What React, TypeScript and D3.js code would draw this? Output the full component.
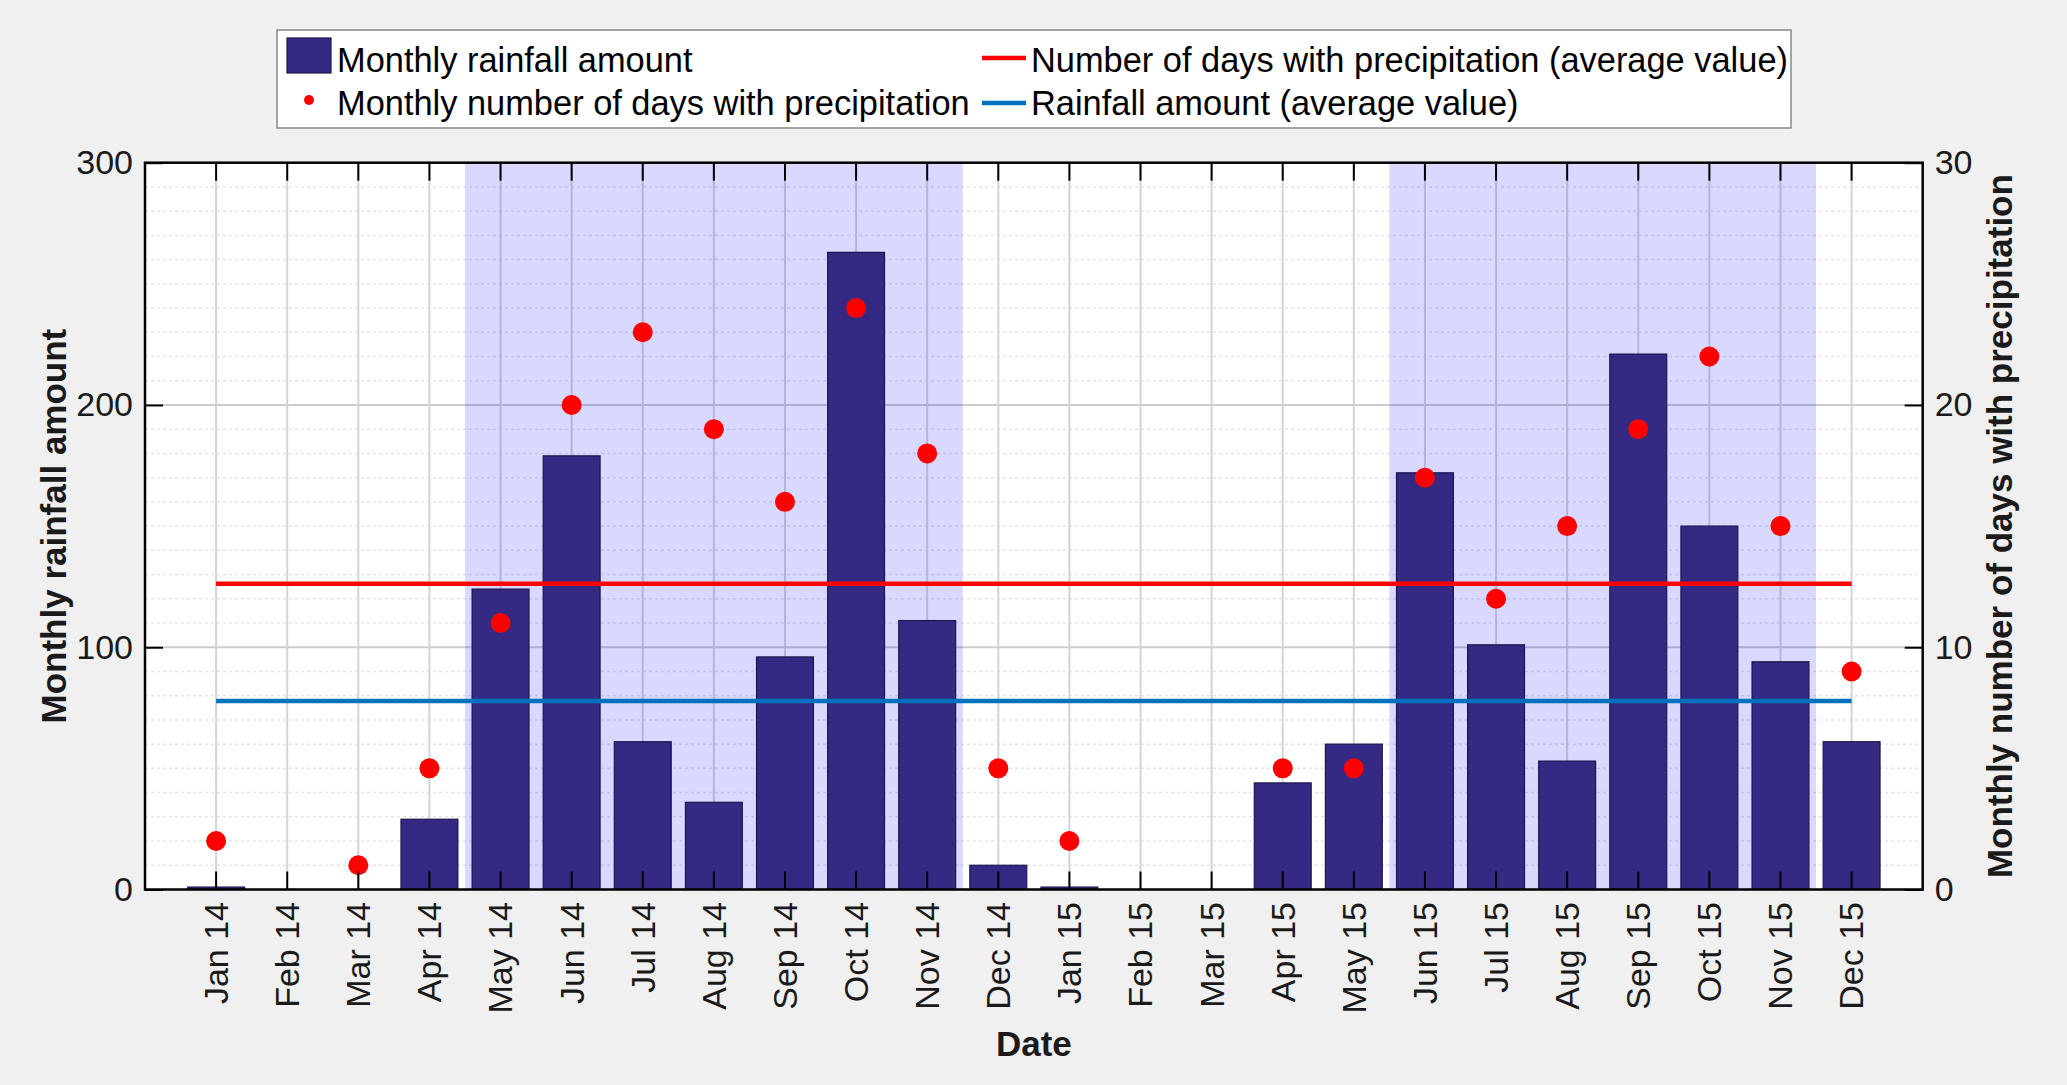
import { useEffect, useRef } from 'react';
import * as d3 from 'd3';

const months = [
  'Jan 14', 'Feb 14', 'Mar 14', 'Apr 14', 'May 14', 'Jun 14', 'Jul 14', 'Aug 14', 'Sep 14', 'Oct 14', 'Nov 14', 'Dec 14',
  'Jan 15', 'Feb 15', 'Mar 15', 'Apr 15', 'May 15', 'Jun 15', 'Jul 15', 'Aug 15', 'Sep 15', 'Oct 15', 'Nov 15', 'Dec 15',
];
const rainfall = [1, 0, 0, 29, 124, 179, 61, 36, 96, 263, 111, 10, 1, 0, 0, 44, 60, 172, 101, 53, 221, 150, 94, 61];
const rainyDays: (number | null)[] = [2, null, 1, 5, 11, 20, 23, 19, 16, 24, 18, 5, 2, null, null, 5, 5, 17, 12, 15, 19, 22, 15, 9];
const wetSeasons: [string, string][] = [['May 14', 'Nov 14'], ['Jun 15', 'Nov 15']];
const leftTicks = [0, 100, 200, 300];
const rightTicks = [0, 10, 20, 30];

const FONT = '"Liberation Sans", Arial, Helvetica, sans-serif';
const BAR = '#342983';

export default function App() {
  const svgRef = useRef<SVGSVGElement>(null);

  useEffect(() => {
    if (!svgRef.current) return;
    const width = 2067, height = 1085;
    const L = 145, R = 1922.7, T = 162.7, B = 889.5;

    const svg = d3.select(svgRef.current);
    svg.selectAll('*').remove();
    svg.attr('width', width).attr('height', height).style('font-family', FONT);

    svg.append('rect').attr('width', width).attr('height', height).attr('fill', '#f0f0f0');
    svg.append('rect').attr('x', L).attr('y', T).attr('width', R - L).attr('height', B - T).attr('fill', '#fff');

    const x = d3.scaleBand<string>().domain(months).range([L, R]).paddingInner(0.2).paddingOuter(0.6);
    const step = x.step();
    const cx = (m: string) => (x(m) ?? 0) + x.bandwidth() / 2;
    const yL = d3.scaleLinear().domain([0, 300]).range([B, T]);
    const yR = d3.scaleLinear().domain([0, 30]).range([B, T]);

    // grid
    const g = svg.append('g');
    g.selectAll('line.minor').data(d3.range(10, 300, 10).filter(v => v % 100 !== 0)).join('line')
      .attr('x1', L).attr('x2', R).attr('y1', d => yL(d)).attr('y2', d => yL(d))
      .attr('stroke', '#e4e4e4').attr('stroke-width', 1.5).attr('stroke-dasharray', '3,3');
    g.selectAll('line.hmaj').data([100, 200]).join('line')
      .attr('x1', L).attr('x2', R).attr('y1', d => yL(d)).attr('y2', d => yL(d))
      .attr('stroke', '#cccccc').attr('stroke-width', 2);
    g.selectAll('line.vmaj').data(months).join('line')
      .attr('x1', d => cx(d)).attr('x2', d => cx(d)).attr('y1', T).attr('y2', B)
      .attr('stroke', '#d4d4d4').attr('stroke-width', 2);

    // wet season shading
    svg.append('g').selectAll('rect').data(wetSeasons).join('rect')
      .attr('x', d => cx(d[0]) - step / 2).attr('y', T)
      .attr('width', d => cx(d[1]) - cx(d[0]) + step).attr('height', B - T)
      .attr('fill', '#0000ff').attr('fill-opacity', 0.15);

    // bars
    svg.append('g').selectAll('rect').data(rainfall).join('rect')
      .attr('x', (_, i) => x(months[i]) ?? 0).attr('width', x.bandwidth())
      .attr('y', d => yL(d)).attr('height', d => B - yL(d))
      .attr('fill', BAR).attr('stroke', '#1b1650').attr('stroke-width', 1.2);

    // average lines
    const avgRain = d3.mean(rainfall) ?? 0;
    const avgDays = d3.mean(rainyDays.filter((d): d is number => d != null)) ?? 0;
    const x0 = cx(months[0]), x1 = cx(months[months.length - 1]);
    svg.append('line').attr('x1', x0).attr('x2', x1).attr('y1', yR(avgDays)).attr('y2', yR(avgDays))
      .attr('stroke', '#ff0000').attr('stroke-width', 4.5);
    svg.append('line').attr('x1', x0).attr('x2', x1).attr('y1', yL(avgRain)).attr('y2', yL(avgRain))
      .attr('stroke', '#0072bd').attr('stroke-width', 4.5);

    // dots
    svg.append('g').selectAll('circle')
      .data(rainyDays.map((d, i) => ({ m: months[i], d })).filter(p => p.d != null))
      .join('circle')
      .attr('cx', p => cx(p.m)).attr('cy', p => yR(p.d as number)).attr('r', 10).attr('fill', '#ff0000');

    // axes
    const styleAxis = (s: d3.Selection<SVGGElement, unknown, null, undefined>) => {
      s.select('.domain').remove();
      s.selectAll('.tick line').attr('stroke', '#000').attr('stroke-width', 2);
      s.selectAll('text').attr('fill', '#1a1a1a').attr('font-size', 34).style('font-family', FONT);
    };
    svg.append('g').attr('transform', `translate(0,${B})`)
      .call(d3.axisBottom(x).tickSizeInner(-18).tickSizeOuter(0))
      .call(styleAxis)
      .call(s => s.selectAll('text').attr('transform', 'rotate(-90)').attr('x', -12.5).attr('y', 0)
        .attr('dy', '0.35em').attr('text-anchor', 'end'));
    svg.append('g').attr('transform', `translate(0,${T})`)
      .call(d3.axisTop(x).tickSizeInner(-18).tickSizeOuter(0).tickFormat(() => ''))
      .call(styleAxis);
    svg.append('g').attr('transform', `translate(${L},0)`)
      .call(d3.axisLeft(yL).tickValues(leftTicks).tickSizeInner(-18).tickSizeOuter(0).tickPadding(12))
      .call(styleAxis);
    svg.append('g').attr('transform', `translate(${R},0)`)
      .call(d3.axisRight(yR).tickValues(rightTicks).tickSizeInner(-18).tickSizeOuter(0).tickPadding(12))
      .call(styleAxis);

    svg.append('rect').attr('x', L).attr('y', T).attr('width', R - L).attr('height', B - T)
      .attr('fill', 'none').attr('stroke', '#000').attr('stroke-width', 2.5);

    // axis labels
    const lab = (sel: d3.Selection<SVGTextElement, unknown, null, undefined>) =>
      sel.attr('font-size', 35).attr('font-weight', 'bold').attr('fill', '#1a1a1a').attr('text-anchor', 'middle');
    svg.append('text').attr('transform', `translate(66,${(T + B) / 2}) rotate(-90)`).call(lab)
      .text('Monthly rainfall amount');
    svg.append('text').attr('transform', `translate(2012,${(T + B) / 2}) rotate(-90)`).call(lab)
      .text('Monthly number of days with precipitation');
    svg.append('text').attr('x', (L + R) / 2).attr('y', 1056).call(lab).text('Date');

    // legend
    const lg = svg.append('g');
    lg.append('rect').attr('x', 277).attr('y', 30).attr('width', 1514).attr('height', 98)
      .attr('fill', '#fff').attr('stroke', '#888').attr('stroke-width', 1.5);
    lg.append('rect').attr('x', 287).attr('y', 38).attr('width', 44).attr('height', 35)
      .attr('fill', BAR).attr('stroke', '#1b1650').attr('stroke-width', 1.2);
    lg.append('circle').attr('cx', 309).attr('cy', 100).attr('r', 5).attr('fill', '#ff0000');
    lg.append('line').attr('x1', 982).attr('x2', 1026).attr('y1', 58).attr('y2', 58)
      .attr('stroke', '#ff0000').attr('stroke-width', 4.5);
    lg.append('line').attr('x1', 982).attr('x2', 1026).attr('y1', 103).attr('y2', 103)
      .attr('stroke', '#0072bd').attr('stroke-width', 4.5);
    const items: [number, number, string][] = [
      [337, 72, 'Monthly rainfall amount'],
      [337, 115, 'Monthly number of days with precipitation'],
      [1031, 72, 'Number of days with precipitation (average value)'],
      [1031, 115, 'Rainfall amount (average value)'],
    ];
    lg.selectAll('text').data(items).join('text')
      .attr('x', d => d[0]).attr('y', d => d[1]).attr('font-size', 34.4).attr('fill', '#000')
      .text(d => d[2]);
  }, []);

  return <svg ref={svgRef} style={{ position: 'absolute', left: 0, top: 0, display: 'block' }} />;
}
